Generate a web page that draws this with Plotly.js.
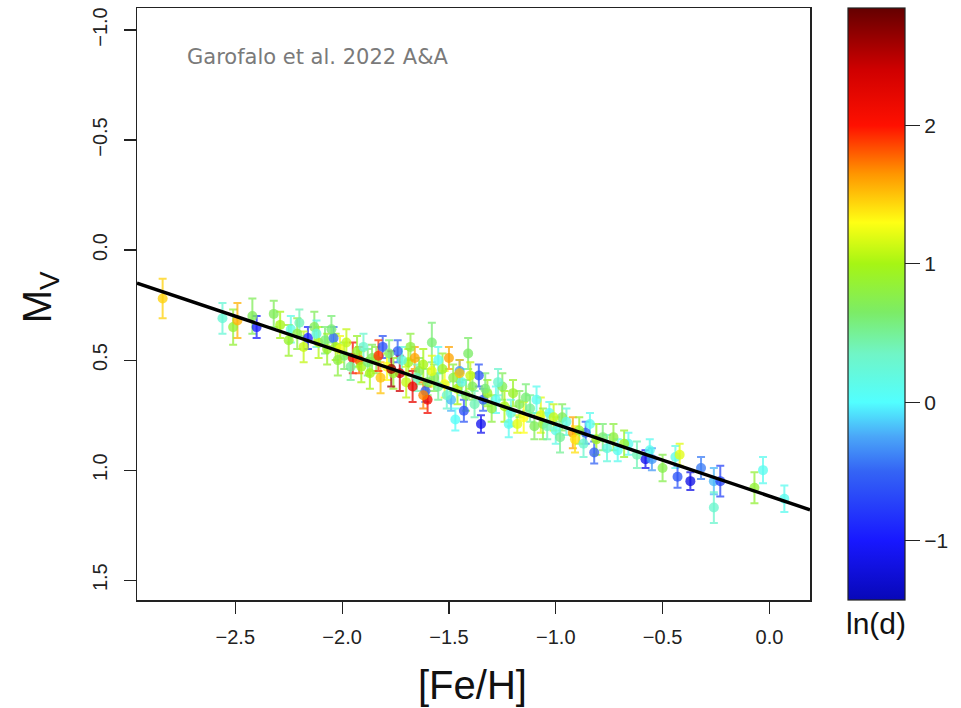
<!DOCTYPE html>
<html>
<head>
<meta charset="utf-8">
<script src="https://cdn.plot.ly/plotly-3.0.1.min.js"></script>
<style>html,body{margin:0;padding:0;background:#fff}#chart{width:961px;height:708px}</style>
</head>
<body>
<div id="chart"></div>
<script>
// ---- data ----
const feh = [-2.84,-2.56,-2.51,-2.49,-2.42,-2.40,-2.32,-2.29,-2.24,-2.21,-2.16,-2.13,-2.11,-2.08,-2.04,-2.03,-2.01,-1.99,-1.95,-1.92,
-1.91,-1.88,-1.86,-1.81,-1.79,-1.74,-1.73,-1.69,-1.66,-1.64,-1.61,-1.60,-1.58,-1.57,-1.55,-1.52,-1.50,-1.49,-1.47,-1.45,
-1.43,-1.41,-1.39,-1.36,-1.35,-1.34,-1.32,-1.28,-1.25,-1.22,-1.20,-1.18,-1.14,-1.10,-1.07,-1.03,-1.00,-0.97,-0.92,-0.91,
-0.86,-0.84,-0.82,-0.81,-0.73,-0.71,-0.66,-0.58,-0.56,-0.55,-0.50,-0.44,-0.43,-0.42,-0.37,-0.32,-0.26,-0.26,-0.23,-0.07,
-0.03,0.07,
-2.25,-2.20,-2.18,-2.12,-2.07,-2.05,-2.02,-1.98,-1.96,-1.93,-1.90,-1.87,-1.84,-1.82,-1.78,-1.76,-1.72,-1.70,-1.68,-1.65,
-1.62,-1.60,-1.58,-1.55,-1.53,-1.51,-1.48,-1.46,-1.44,-1.42,-1.40,-1.38,-1.33,-1.30,-1.27,-1.24,-1.21,-1.17,-1.15,-1.12,
-1.09,-1.06,-1.04,-1.01,-0.98,-0.95,-0.89,-0.87,-0.78,-0.76,-0.68,-0.62,
-1.83,-1.77,-1.62,-1.45,-1.67];
const mv = [0.22,0.31,0.35,0.32,0.30,0.35,0.29,0.34,0.36,0.38,0.40,0.35,0.42,0.41,0.40,0.44,0.45,0.48,0.49,0.50,
0.53,0.51,0.49,0.44,0.53,0.46,0.56,0.51,0.49,0.55,0.64,0.68,0.42,0.58,0.50,0.61,0.49,0.68,0.77,0.55,
0.73,0.47,0.62,0.57,0.79,0.68,0.65,0.68,0.62,0.79,0.65,0.79,0.67,0.80,0.75,0.74,0.82,0.76,0.83,0.86,
0.83,0.79,0.92,0.86,0.85,0.91,0.88,0.95,0.91,0.95,0.99,0.94,1.03,0.93,1.05,0.99,1.05,1.17,1.05,1.08,
1.00,1.13,
0.41,0.33,0.44,0.38,0.45,0.36,0.50,0.42,0.53,0.46,0.44,0.56,0.50,0.58,0.47,0.56,0.50,0.60,0.44,0.58,
0.52,0.60,0.55,0.62,0.54,0.66,0.58,0.63,0.60,0.66,0.57,0.70,0.63,0.72,0.60,0.71,0.74,0.70,0.76,0.72,
0.68,0.79,0.80,0.76,0.85,0.78,0.82,0.88,0.85,0.90,0.88,0.93,
0.48,0.54,0.66,0.56,0.62];
const mvErr = [0.09,0.07,0.08,0.08,0.08,0.05,0.06,0.06,0.06,0.07,0.05,0.07,0.07,0.06,0.05,0.06,0.06,0.06,0.07,0.06,
0.07,0.06,0.06,0.05,0.06,0.05,0.08,0.06,0.05,0.06,0.05,0.06,0.09,0.06,0.06,0.06,0.05,0.05,0.05,0.05,
0.05,0.07,0.06,0.05,0.04,0.05,0.06,0.06,0.06,0.06,0.06,0.04,0.06,0.06,0.08,0.05,0.06,0.06,0.07,0.06,
0.05,0.05,0.05,0.07,0.06,0.05,0.05,0.04,0.05,0.05,0.06,0.05,0.05,0.05,0.04,0.05,0.06,0.07,0.07,0.07,
0.06,0.06,
0.07,0.06,0.07,0.06,0.07,0.06,0.07,0.06,0.06,0.07,0.06,0.07,0.06,0.07,0.06,0.07,0.06,0.07,0.06,0.06,
0.07,0.06,0.07,0.06,0.07,0.06,0.06,0.07,0.06,0.07,0.06,0.06,0.07,0.06,0.06,0.07,0.06,0.06,0.07,0.06,
0.06,0.07,0.06,0.06,0.07,0.06,0.06,0.06,0.06,0.06,0.06,0.06,
0.07,0.08,0.06,0.06,0.07];
const lnd = [1.45,0.25,0.85,1.55,0.7,-0.95,0.7,1.0,0.15,0.8,-0.9,0.7,1.05,0.6,-0.45,1.0,1.25,0.65,2.05,1.8,
1.0,0.6,0.7,-0.6,1.3,-0.5,2.4,1.0,1.6,0.7,-0.5,2.1,0.6,0.7,0.1,1.3,1.6,-0.2,0.05,-0.3,
-0.6,0.65,0.7,-0.6,-1.1,-0.5,0.9,0.1,0.7,0.1,0.9,1.2,0.6,0.7,1.2,0.1,0.15,0.7,1.6,1.4,
-0.5,0.1,-0.5,0.95,0.8,0.1,0.1,-1.1,0.1,-0.3,0.75,0.15,-0.6,1.2,-1.15,-0.4,-0.2,0.3,-0.7,0.85,
0.1,0.1,
0.9,0.4,1.1,0.2,0.9,0.6,0.8,1.1,0.5,0.9,0.3,1.0,0.8,1.5,0.6,0.9,0.2,1.1,0.8,0.4,
1.0,0.7,1.2,0.5,0.9,0.3,0.8,1.0,0.2,0.7,1.1,0.4,0.6,0.8,0.3,1.0,0.2,0.7,1.3,0.5,
0.1,0.8,0.4,1.1,0.5,0.2,0.9,0.3,0.6,0.2,0.9,0.4,
1.9,2.6,1.7,1.5,2.2];
const fitX = [-2.96, 0.19];
const fitY = [0.15, 1.18];
const cbTicks = [-1, 0, 1, 2];

// ---- styling ----
const cmin = -1.43, cmax = 2.85;
const stops = [
  [-1.43,'#0808b8'],[-1.0,'#1818ff'],[-0.5,'#3464f5'],[-0.25,'#4aa6f8'],[0.0,'#52ffff'],
  [0.35,'#70f5c6'],[0.65,'#7cec66'],[1.0,'#a6f514'],[1.3,'#ffff14'],[1.65,'#ff9600'],
  [2.0,'#ff1000'],[2.4,'#d00000'],[2.85,'#640000']];
const colorscale = stops.map(s => [(s[0]-cmin)/(cmax-cmin), s[1]]);
function hex2rgb(h){return [parseInt(h.substr(1,2),16),parseInt(h.substr(3,2),16),parseInt(h.substr(5,2),16)];}
function colorOf(v){
  const p = Math.max(0, Math.min(1, (v-cmin)/(cmax-cmin)));
  for (let i=1;i<colorscale.length;i++){
    if (p <= colorscale[i][0]){
      const a = colorscale[i-1], b = colorscale[i];
      const t = (p-a[0])/(b[0]-a[0]);
      const ca = hex2rgb(a[1]), cb = hex2rgb(b[1]);
      return 'rgb(' + ca.map((c,k)=>Math.round(c+(cb[k]-c)*t)).join(',') + ')';
    }
  }
  return colorscale[colorscale.length-1][1];
}

const traces = [];
for (let i=0;i<feh.length;i++){
  const c = colorOf(lnd[i]);
  traces.push({type:'scatter', mode:'markers', x:[feh[i]], y:[mv[i]],
    marker:{size:2, opacity:0}, opacity:0.75,
    error_y:{type:'data', array:[mvErr[i]], visible:true, color:c, thickness:2, width:4},
    showlegend:false, hoverinfo:'skip'});
}
traces.push({type:'scatter', mode:'markers', x:feh, y:mv,
  marker:{size:10, color:lnd, colorscale:colorscale, cmin:cmin, cmax:cmax, opacity:0.78, line:{width:0},
    colorbar:{x:1.0565, xanchor:'left', xpad:0, ypad:0, y:0.5, yanchor:'middle', len:1, lenmode:'fraction',
      thickness:57, thicknessmode:'pixels', outlinewidth:1.2, outlinecolor:'#222',
      tickvals:cbTicks, ticks:'outside', ticklen:15, tickwidth:1.2, tickcolor:'#222',
      tickfont:{family:'Liberation Sans, Arial, sans-serif', size:21, color:'#222'}}},
  showlegend:false, hoverinfo:'skip'});
traces.push({type:'scatter', mode:'lines', x:fitX, y:fitY, line:{color:'#000', width:3.5},
  showlegend:false, hoverinfo:'skip'});

const axFont = {family:'Liberation Sans, Arial, sans-serif', size:20, color:'#222'};
const layout = {
  width:961, height:708,
  margin:{l:137, r:151, t:8, b:108, pad:0},
  paper_bgcolor:'#fff', plot_bgcolor:'#fff',
  xaxis:{range:[-2.96,0.19], tickvals:[-2.5,-2,-1.5,-1,-0.5,0], tickformat:'.1f',
    showgrid:false, zeroline:false, showline:true, mirror:true, linecolor:'#222', linewidth:1.5,
    ticks:'outside', ticklen:12, tickwidth:1.2, tickcolor:'#222', tickfont:axFont, ticklabelstandoff:6},
  yaxis:{range:[1.59,-1.1], tickvals:[-1,-0.5,0,0.5,1,1.5], tickformat:'.1f', tickangle:-90,
    showgrid:false, zeroline:false, showline:true, mirror:true, linecolor:'#222', linewidth:1.5,
    ticks:'outside', ticklen:12, tickwidth:1.2, tickcolor:'#222', tickfont:axFont, ticklabelstandoff:9},
  annotations:[
    {text:'Garofalo et al. 2022 A&A', xref:'paper', yref:'paper', x:0.0713, y:0.917, xanchor:'left', yanchor:'middle',
      showarrow:false, font:{family:'DejaVu Sans, sans-serif', size:21, color:'#7a7a7a'}},
    {text:'M<sub>V</sub>', xref:'paper', yref:'paper', x:-0.145, y:0.512, xanchor:'center', yanchor:'middle',
      textangle:-90, showarrow:false, font:{family:'Liberation Sans, Arial, sans-serif', size:40, color:'#111'}},
    {text:'[Fe/H]', xref:'paper', yref:'paper', x:0.499, y:-0.144, xanchor:'center', yanchor:'middle',
      showarrow:false, font:{family:'Liberation Sans, Arial, sans-serif', size:40, color:'#111'}},
    {text:'ln(d)', xref:'paper', yref:'paper', x:1.098, y:-0.040, xanchor:'center', yanchor:'middle',
      showarrow:false, font:{family:'Liberation Sans, Arial, sans-serif', size:30, color:'#111'}}
  ]
};
Plotly.newPlot('chart', traces, layout, {displayModeBar:false, staticPlot:true});
</script>
</body>
</html>
